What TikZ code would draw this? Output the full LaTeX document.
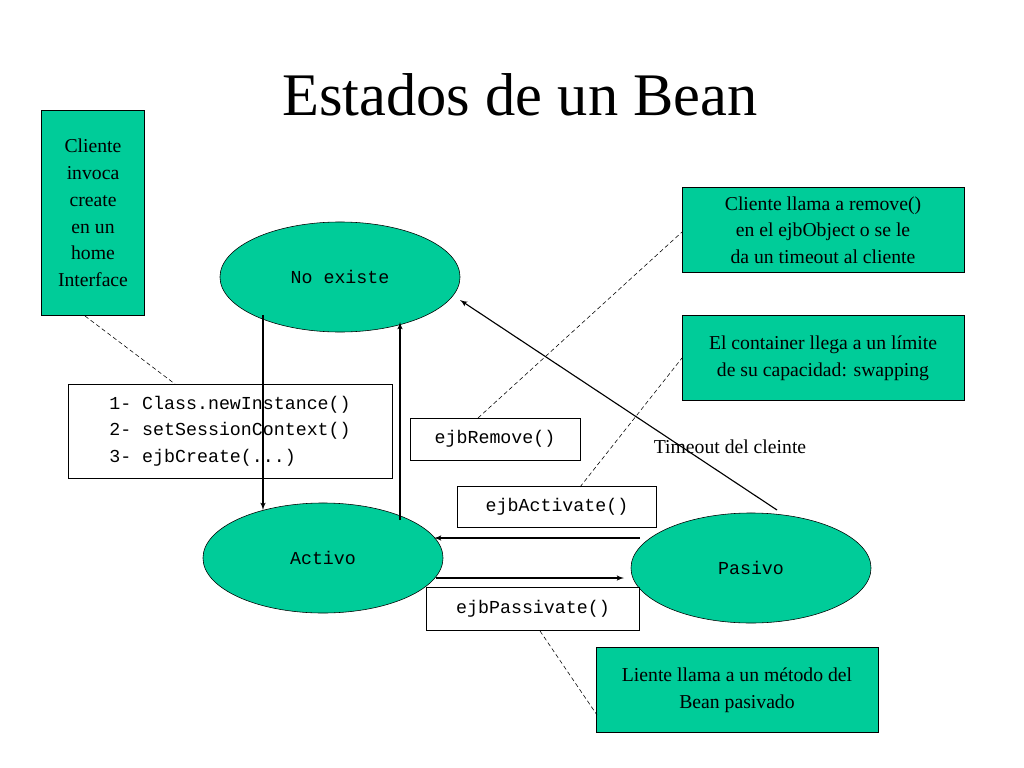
\documentclass[tikz,border=0pt]{standalone}
\usepackage{fontspec}
\setmainfont{Liberation Serif}
\setmonofont{Liberation Mono}
\usetikzlibrary{shapes,arrows}
\definecolor{beangreen}{RGB}{0,204,153}
\tikzstyle{state} = [ellipse, draw, fill=beangreen, minimum width=6cm, minimum height=2.75cm, font=\ttfamily\fontsize{13}{15}\selectfont]
\tikzstyle{note} = [rectangle, draw, fill=beangreen, align=center, inner sep=2pt, font=\fontsize{14}{19}\selectfont]
\tikzstyle{call} = [rectangle, draw, fill=white, align=left, inner sep=4pt, font=\ttfamily\fontsize{13}{19}\selectfont]
\tikzset{
  line/.style ={draw, thick, -latex', shorten >=0pt},
  hint/.style ={draw, densely dashed}
}
\begin{document}
\begin{tikzpicture}[x=0.025cm, y=-0.025cm]
   \useasboundingbox (0,0) rectangle (1024,768);
   \node [font=\fontsize{43}{50}\selectfont] (title) at (520,95) {Estados de un Bean};
   \node [state] (noexiste) at (340,277) {No existe};
   \node [state] (activo) at (323,558) {Activo};
   \node [state] (pasivo) at (751,568) {Pasivo};
   \node [note, minimum width=2.57cm, minimum height=5.12cm] (create) at (93,213) {Cliente\\invoca\\create\\en un\\home\\Interface};
   \node [note, minimum width=7.05cm, minimum height=2.12cm] (remove) at (823,230) {Cliente llama a remove()\\en el ejbObject o se le\\da un timeout al cliente};
   \node [note, minimum width=7.05cm, minimum height=2.12cm] (swap) at (823,358) {El container llega a un límite\\de su capacidad: swapping};
   \node [note, minimum width=7.05cm, minimum height=2.12cm] (metodo) at (737,690) {Liente llama a un método del\\Bean pasivado};
   \node [call, minimum width=8.1cm, minimum height=2.35cm] (init) at (230,431) {1- Class.newInstance()\\2- setSessionContext()\\3- ejbCreate(...)};
   \node [call, minimum width=4.25cm, minimum height=1.05cm] (ejbremove) at (495,439) {ejbRemove()};
   \node [call, minimum width=4.97cm, minimum height=1.02cm] (ejbactivate) at (557,507) {ejbActivate()};
   \node [call, minimum width=5.32cm, minimum height=1.07cm] (ejbpassivate) at (533,609) {ejbPassivate()};
   \node [font=\fontsize{14}{17}\selectfont] (timeout) at (730,447) {Timeout del cleinte};
   \coordinate (a1) at (263,315); \coordinate (a2) at (263,510);
   \coordinate (b1) at (400,520); \coordinate (b2) at (400,322);
   \coordinate (c1) at (777,510); \coordinate (c2) at (460,300);
   \coordinate (d1) at (640,538); \coordinate (d2) at (434,538);
   \coordinate (e1) at (436,578); \coordinate (e2) at (624,578);
   \path [line] (a1) -- (a2);
   \path [line] (b1) -- (b2);
   \path [line] (c1) -- (c2);
   \path [line] (d1) -- (d2);
   \path [line] (e1) -- (e2);
   \coordinate (h1) at (85,316); \coordinate (h2) at (175,384);
   \coordinate (h3) at (478,418); \coordinate (h4) at (682,232);
   \coordinate (h5) at (580,487); \coordinate (h6) at (682,358);
   \coordinate (h7) at (540,631); \coordinate (h8) at (597,715);
   \path [hint] (h1) -- (h2);
   \path [hint] (h3) -- (h4);
   \path [hint] (h5) -- (h6);
   \path [hint] (h7) -- (h8);
\end{tikzpicture}
\end{document}
